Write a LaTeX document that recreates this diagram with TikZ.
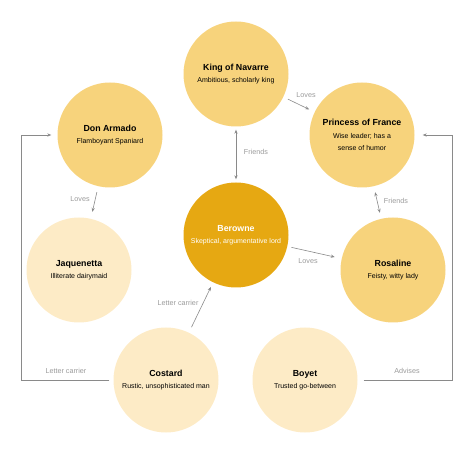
\documentclass[tikz,border=0pt]{standalone}
\usepackage{fontspec}
\setmainfont{Liberation Sans}
\usetikzlibrary{arrows.meta}
\definecolor{midY}{HTML}{F7D37C}
\definecolor{darkY}{HTML}{E6A812}
\definecolor{lightY}{HTML}{FDEBC6}
\definecolor{lineG}{HTML}{8A8A8A}
\definecolor{labG}{HTML}{9A9A9A}
\tikzset{
  person/.style={circle, minimum size=105pt, inner sep=0pt, align=center, text=black},
  mid/.style={person, fill=midY},
  dark/.style={person, fill=darkY, text=white},
  light/.style={person, fill=lightY},
  arr/.style={draw=lineG, line width=0.6pt, -{Stealth[length=4pt,width=3.2pt]}},
  darr/.style={draw=lineG, line width=0.6pt, {Stealth[length=4pt,width=3.2pt]}-{Stealth[length=4pt,width=3.2pt]}},
  lab/.style={text=labG, font=\fontsize{7.2}{8}\selectfont, inner sep=0pt},
}
\newcommand{\ttl}[1]{{\fontsize{8.8}{10.5}\selectfont\bfseries #1}}
\newcommand{\sub}[1]{{\fontsize{7}{10.5}\selectfont #1}}
\begin{document}
\begin{tikzpicture}[x=1pt,y=-1pt]
\useasboundingbox (0,0) rectangle (474,454);
\node[mid] (king) at (236,74) {\ttl{King of Navarre}\\[0.5pt]\sub{Ambitious, scholarly king}};
\node[mid] (princess) at (362,135) {\ttl{Princess of France}\\[0.5pt]\sub{Wise leader; has a}\\\sub{sense of humor}};
\node[mid] (armado) at (110,135) {\ttl{Don Armado}\\[0.5pt]\sub{Flamboyant Spaniard}};
\node[dark] (berowne) at (236,235) {\ttl{Berowne}\\[0.5pt]\sub{Skeptical, argumentative lord}};
\node[mid] (rosaline) at (393,270) {\ttl{Rosaline}\\[0.5pt]\sub{Feisty, witty lady}};
\node[light] (jaq) at (79,270) {\ttl{Jaquenetta}\\[0.5pt]\sub{Illiterate dairymaid}};
\node[light] (costard) at (166,380) {\ttl{Costard}\\[0.5pt]\sub{Rustic, unsophisticated man}};
\node[light] (boyet) at (305,380) {\ttl{Boyet}\\[0.5pt]\sub{Trusted go-between}};

\draw[darr, shorten <=3pt, shorten >=3pt] (king) -- (berowne);
\draw[arr, shorten <=5pt, shorten >=6pt] (king) -- (princess);
\draw[darr, shorten <=6pt, shorten >=6pt] (princess) -- (rosaline);
\draw[arr, shorten <=6pt, shorten >=7pt] (armado) -- (jaq);
\draw[arr, shorten <=4pt, shorten >=7pt] (berowne) -- (rosaline);
\draw[arr, shorten <=6pt, shorten >=5pt] (costard) -- (berowne);
\draw[arr, shorten <=4pt, shorten >=6pt] (costard.west) -- ++(-92,0) |- (armado.west);
\draw[arr, shorten <=6pt, shorten >=8pt] (boyet.east) -- ++(95,0) |- (princess.east);

\node[lab] (l1) at (256,152) {Friends};
\node[lab] (l2) at (306,95) {Loves};
\node[lab] (l3) at (396,201) {Friends};
\node[lab] (l4) at (80,199) {Loves};
\node[lab] (l5) at (308,261) {Loves};
\node[lab] (l6) at (178,303) {Letter carrier};
\node[lab] (l7) at (66,371) {Letter carrier};
\node[lab] (l8) at (407,371) {Advises};
\end{tikzpicture}
\end{document}
